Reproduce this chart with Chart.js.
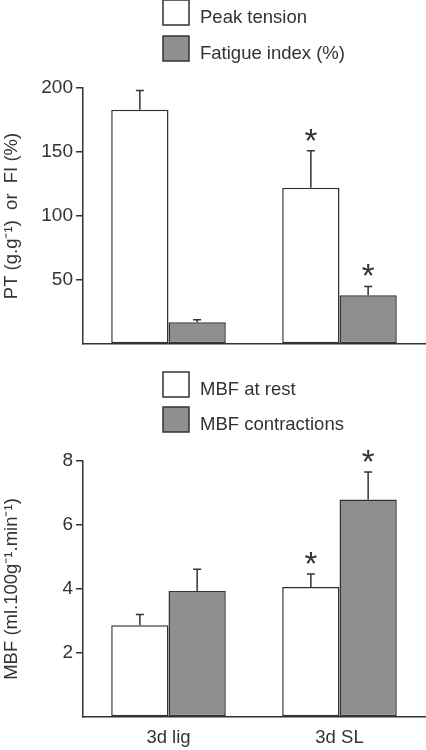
<!DOCTYPE html>
<html>
<head>
<meta charset="utf-8">
<script src="https://cdn.jsdelivr.net/npm/chart.js@4.4.1/dist/chart.umd.min.js"></script>
<style>
  body { margin: 0; background: #fff; }
  canvas { display: block; }
</style>
</head>
<body>
<canvas id="panel_tension" width="426" height="370"></canvas>
<canvas id="panel_mbf" width="426" height="380"></canvas>
<script>
// data
const groups = ['3d lig', '3d SL'];

const peakTension = [183, 122];
const peakTensionErr = [15, 29];
const peakTensionSig = [false, true];
const fatigueIndex = [17, 38];
const fatigueIndexErr = [2, 7];
const fatigueIndexSig = [false, true];

const mbfRest = [2.87, 4.06];
const mbfRestErr = [0.33, 0.41];
const mbfRestSig = [false, true];
const mbfContr = [3.94, 6.8];
const mbfContrErr = [0.68, 0.86];
const mbfContrSig = [false, true];

const FONT = '"Liberation Sans", Arial, Helvetica, sans-serif';
const INK = '#333333';
const GREY = '#8f8f8f';

// error bars (upward only) + significance stars
const errorBars = {
  id: 'errorBars',
  afterDatasetsDraw(chart) {
    const c = chart.ctx;
    const y = chart.scales.y;
    chart.data.datasets.forEach(function (ds, i) {
      chart.getDatasetMeta(i).data.forEach(function (bar, j) {
        const top = y.getPixelForValue(ds.data[j] + ds.errors[j]);
        c.save();
        c.strokeStyle = INK;
        c.lineWidth = 1.5;
        c.beginPath();
        c.moveTo(bar.x, bar.y);
        c.lineTo(bar.x, top);
        c.moveTo(bar.x - 4, top);
        c.lineTo(bar.x + 4, top);
        c.stroke();
        if (ds.sig[j]) {
          c.fillStyle = INK;
          c.font = '33px ' + FONT;
          c.textAlign = 'center';
          c.textBaseline = 'alphabetic';
          c.fillText('*', bar.x, top + 1);
        }
        c.restore();
      });
    });
  }
};

// stacked legend boxes above the plot
const boxLegend = {
  id: 'boxLegend',
  afterDraw(chart, args, opts) {
    const c = chart.ctx;
    chart.data.datasets.forEach(function (ds, i) {
      const top = opts.tops[i];
      c.save();
      c.fillStyle = ds.backgroundColor;
      c.strokeStyle = INK;
      c.lineWidth = 1.5;
      c.fillRect(opts.x, top, 26, 25);
      c.strokeRect(opts.x, top, 26, 25);
      c.fillStyle = INK;
      c.font = '18.5px ' + FONT;
      c.textBaseline = 'alphabetic';
      c.fillText(ds.label, opts.x + 37, top + 23);
      c.restore();
    });
  }
};

function makeOptions(yMax, yStep, yTitle, showX, padTop, xHeight, legendTops) {
  return {
    responsive: false,
    animation: false,
    layout: { padding: { left: 0, right: 1, top: padTop, bottom: 0 } },
    plugins: {
      legend: { display: false },
      tooltip: { enabled: false },
      boxLegend: { x: 163, tops: legendTops }
    },
    scales: {
      x: {
        grid: { display: false, drawTicks: false },
        border: { display: true, color: INK, width: 1.5 },
        ticks: { display: showX, padding: 10, color: INK, font: { family: FONT, size: 18.5 } },
        afterFit: function (scale) { scale.height = xHeight; }
      },
      y: {
        min: 0,
        max: yMax,
        ticks: {
          stepSize: yStep,
          padding: 3,
          color: INK,
          font: { family: FONT, size: 19 },
          callback: function (v) { return v === 0 ? '' : v; }
        },
        grid: {
          drawOnChartArea: false,
          tickLength: 7,
          lineWidth: 1.5,
          color: function (ctx) { return ctx.tick && ctx.tick.value === 0 ? 'rgba(0,0,0,0)' : INK; }
        },
        border: { display: true, color: INK, width: 1.5 },
        title: {
          display: true,
          text: yTitle,
          color: INK,
          padding: { top: 1, bottom: 0 },
          font: { family: FONT, size: 18.5 }
        },
        afterFit: function (scale) { scale.width = 83; }
      }
    }
  };
}

// Peak tension / fatigue index
const ctx1 = document.getElementById('panel_tension').getContext('2d');
const chartTension = new Chart(ctx1, {
  type: 'bar',
  plugins: [errorBars, boxLegend],
  data: {
    labels: groups,
    datasets: [
      {
        label: 'Peak tension',
        data: peakTension,
        errors: peakTensionErr,
        sig: peakTensionSig,
        backgroundColor: '#ffffff',
        borderColor: INK,
        borderWidth: 1.5,
        borderSkipped: false,
        categoryPercentage: 0.67,
        barPercentage: 1.0
      },
      {
        label: 'Fatigue index (%)',
        data: fatigueIndex,
        errors: fatigueIndexErr,
        sig: fatigueIndexSig,
        backgroundColor: GREY,
        borderColor: INK,
        borderWidth: 1.5,
        borderSkipped: false,
        categoryPercentage: 0.67,
        barPercentage: 1.0
      }
    ]
  },
  options: makeOptions(200, 50, 'PT (g.g\u207B\u00B9)  or  FI (%)', false, 88, 26, [0, 36])
});

// Muscle blood flow
const ctx2 = document.getElementById('panel_mbf').getContext('2d');
const chartMbf = new Chart(ctx2, {
  type: 'bar',
  plugins: [errorBars, boxLegend],
  data: {
    labels: groups,
    datasets: [
      {
        label: 'MBF at rest',
        data: mbfRest,
        errors: mbfRestErr,
        sig: mbfRestSig,
        backgroundColor: '#ffffff',
        borderColor: INK,
        borderWidth: 1.5,
        borderSkipped: false,
        categoryPercentage: 0.67,
        barPercentage: 1.0
      },
      {
        label: 'MBF contractions',
        data: mbfContr,
        errors: mbfContrErr,
        sig: mbfContrSig,
        backgroundColor: GREY,
        borderColor: INK,
        borderWidth: 1.5,
        borderSkipped: false,
        categoryPercentage: 0.67,
        barPercentage: 1.0
      }
    ]
  },
  options: makeOptions(8, 2, 'MBF (ml.100g\u207B\u00B9.min\u207B\u00B9)', true, 91, 33, [2, 37])
});
</script>
</body>
</html>
